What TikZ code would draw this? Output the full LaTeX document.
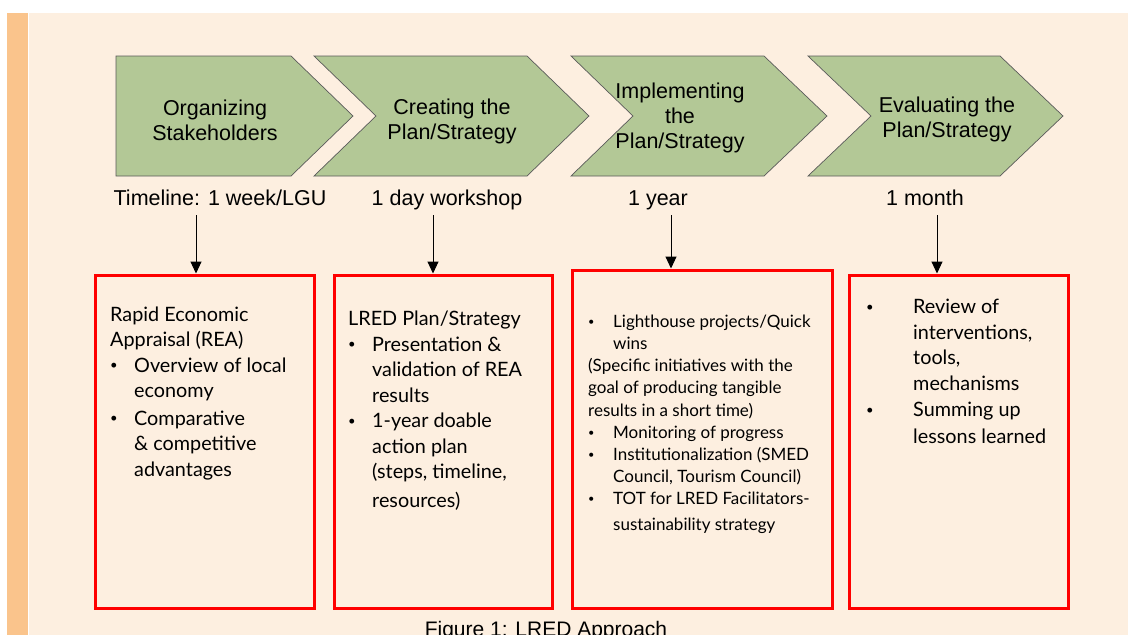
\documentclass[tikz,border=0pt]{standalone}
\usepackage{fontspec}
\setmainfont{Liberation Sans}
\newfontfamily\boxfont{Lato}
\usetikzlibrary{arrows.meta}
\definecolor{cream}{HTML}{FDEFE0}
\definecolor{stripor}{HTML}{FAC48C}
\definecolor{chevgreen}{HTML}{B3C896}
\definecolor{chevline}{HTML}{5A5A5A}
\newcommand\bul[1]{\makebox[#1][l]{\raisebox{2.3pt}{\fontsize{13}{13}\selectfont\textbullet}}}
\newcommand\sbul[1]{\makebox[#1][l]{\raisebox{2pt}{\fontsize{11}{11}\selectfont\textbullet}}}
\begin{document}
\begin{tikzpicture}[x=1pt,y=-1pt,
  chev/.style={fill=chevgreen,draw=chevline,line width=0.7pt,line join=miter},
  chevtext/.style={align=center,font=\fontsize{21.5}{25}\selectfont,inner sep=0pt},
  timetext/.style={anchor=base,font=\fontsize{21.5}{25}\selectfont,inner sep=0pt},
  redbox/.style={draw=red,line width=3pt},
  boxtext/.style={anchor=base west,align=left,inner sep=0pt,font=\boxfont\fontsize{19.8}{25.5}\selectfont},
  smalltext/.style={anchor=base west,align=left,inner sep=0pt,font=\boxfont\fontsize{17}{22.2}\selectfont},
  down/.style={-{Triangle[length=12pt,width=11pt]},line width=1pt,black}]
\path[use as bounding box] (0,0) rectangle (1128,635);
\fill[white] (0,0) rectangle (1128,635);
\fill[cream] (29,13) rectangle (1128,635);
\fill[stripor] (7,13) rectangle (28,635);
% chevrons
\draw[chev] (116,56) -- (291,56) -- (353,116) -- (291,176) -- (116,176) -- cycle;
\draw[chev] (314,56) -- (527,56) -- (589,116) -- (527,176) -- (314,176) -- (376,116) -- cycle;
\draw[chev] (571,56) -- (764,56) -- (827,116) -- (764,176) -- (571,176) -- (633,116) -- cycle;
\draw[chev] (808,56) -- (1000,56) -- (1063,116) -- (1000,176) -- (808,176) -- (871,116) -- cycle;
\node[chevtext] (c1) at (215,120.5) {Organizing\\Stakeholders};
\node[chevtext] (c2) at (452,121) {Creating the\\Plan/Strategy};
\node[chevtext] (c3) at (680,118) {Implementing\\the\\Plan/Strategy};
\node[chevtext] (c4) at (947,119.5) {Evaluating the\\Plan/Strategy};
% timeline labels
\node[timetext] (t1) at (220,205) {Timeline: 1 week/LGU};
\node[timetext] (t2) at (447,205) {1 day workshop};
\node[timetext] (t3) at (658,205) {1 year};
\node[timetext] (t4) at (925,205) {1 month};
% boxes
\node[redbox,minimum width=219pt,minimum height=333pt,inner sep=0pt] (b1) at (204.5,441.5) {};
\node[redbox,minimum width=218pt,minimum height=333pt,inner sep=0pt] (b2) at (443,441.5) {};
\node[redbox,minimum width=260pt,minimum height=338pt,inner sep=0pt] (b3) at (702,439) {};
\node[redbox,minimum width=219pt,minimum height=333pt,inner sep=0pt] (b4) at (958.5,441.5) {};
% arrows
\coordinate (a1) at (196,215);
\coordinate (a2) at (433,215);
\coordinate (a3) at (671,215);
\coordinate (a4) at (937,215);
\draw[down] (a1) -- (a1 |- b1.north);
\draw[down] (a2) -- (a2 |- b2.north);
\draw[down] (a3) -- (a3 |- b3.north);
\draw[down] (a4) -- (a4 |- b4.north);
% box texts (anchor base = baseline of last line)
\node[boxtext] (x1) at (110,476) {Rapid Economic\\Appraisal (REA)\\\bul{24pt}Overview of local\\\hspace*{24pt}economy\\[2pt]\bul{24pt}Comparative\\\hspace*{24pt}\& competitive\\\hspace*{24pt}advantages};
\node[boxtext] (x2) at (348,507) {LRED Plan/Strategy\\\bul{24pt}Presentation \&\\\hspace*{24pt}validation of REA\\\hspace*{24pt}results\\\bul{24pt}1-year doable\\\hspace*{24pt}action plan\\\hspace*{24pt}(steps, timeline,\\[3pt]\hspace*{24pt}resources)};
\node[smalltext] (x3) at (588,530) {\sbul{25pt}Lighthouse projects/Quick\\\hspace*{25pt}wins\\(Specific initiatives with the\\goal of producing tangible\\results in a short time)\\\sbul{25pt}Monitoring of progress\\\sbul{25pt}Institutionalization (SMED\\\hspace*{25pt}Council, Tourism Council)\\\sbul{25pt}TOT for LRED Facilitators-\\[3pt]\hspace*{25pt}sustainability strategy};
\node[boxtext] (x4) at (866,443) {\bul{47pt}Review of\\\hspace*{47pt}interventions,\\\hspace*{47pt}tools,\\\hspace*{47pt}mechanisms\\[1pt]\bul{47pt}Summing up\\[1pt]\hspace*{47pt}lessons learned};
% caption
\node[anchor=base,inner sep=0pt,font=\fontsize{21}{25}\selectfont] (cap) at (546,636) {Figure 1: LRED Approach};
\end{tikzpicture}
\end{document}
